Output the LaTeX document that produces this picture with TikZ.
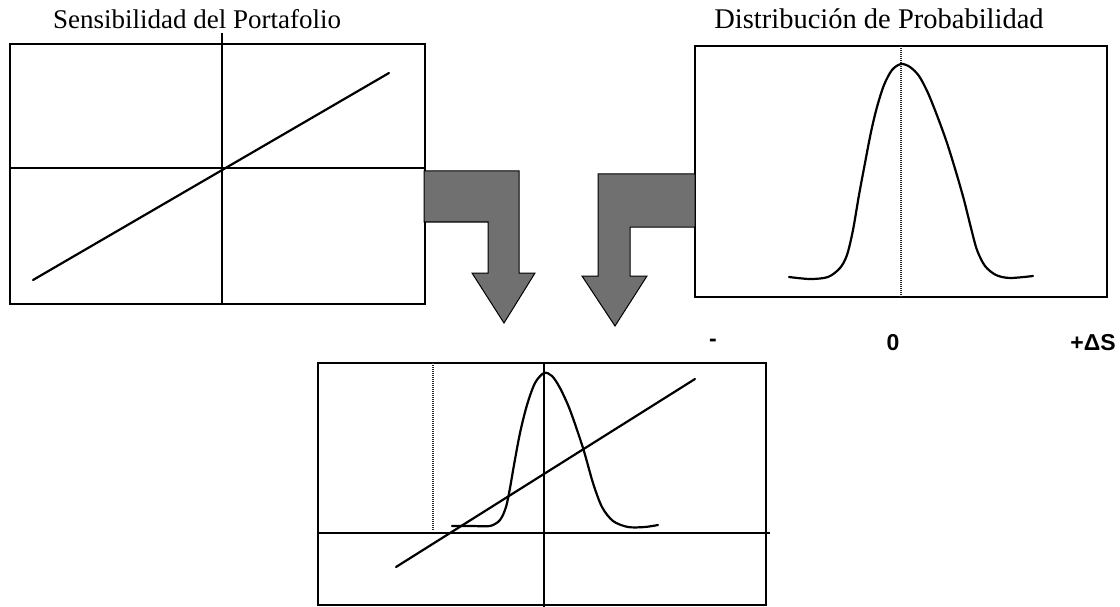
\documentclass[tikz,border=0pt]{standalone}
\usepackage{fontspec}
\setmainfont{Liberation Serif}
\newfontfamily\labfont{Liberation Sans}
\definecolor{arrowgray}{RGB}{112,112,112}
\tikzset{
  panel/.style={draw=black, line width=1.6pt},
  axis/.style={draw=black, line width=1.5pt},
  curve/.style={draw=black, line width=2.2pt, line join=round, line cap=round},
  dotline/.style={draw=black!85, line width=1.8pt, dash pattern=on 1pt off 1pt},
  bigarrow/.style={draw=black, line width=1pt, fill=arrowgray},
  title/.style={font=\fontsize{27}{30}\selectfont, inner sep=0pt},
  axlabel/.style={font=\labfont\bfseries\fontsize{23}{26}\selectfont, inner sep=0pt}
}
\begin{document}
\begin{tikzpicture}[x=1pt,y=-1pt]
\useasboundingbox (0,0) rectangle (1120,607);
% titles
\node[title] (t1) at (197,19) {Sensibilidad del Portafolio};
\node[title, font=\fontsize{28.5}{32}\selectfont] (t2) at (879,19) {Distribución de Probabilidad};
% left panel
\draw[panel] (10,44) rectangle (425,304);
\draw[axis] (222,33) -- (222,304);
\draw[axis] (10,168) -- (425,168);
\draw[curve] (33,280) -- (389,73);
% right panel
\draw[panel] (695,46) rectangle (1107,297);
\draw[dotline] (901,46) -- (901,297);
\draw[curve] plot[smooth, tension=0.5] coordinates {
 (789,277) (810,279) (828,277) (840,268) (847,255) (853,230) (859,195) (865,163)
 (871,132) (877,107) (884,85) (892,70) (901,64) (910,67) (919,76) (928,93)
 (938,118) (947,143) (956,172) (964,200) (971,228) (977,250) (985,266)
 (996,275) (1010,278) (1033,276)};
% arrows
\draw[bigarrow] (424,171) -- (519,171) -- (519,273) -- (535,273) -- (504,323)
  -- (472,273) -- (488,273) -- (488,222) -- (424,222) -- cycle;
\draw[bigarrow] (695,174) -- (598,174) -- (598,276) -- (582,276) -- (615,326)
  -- (647,276) -- (630,276) -- (630,227) -- (695,227) -- cycle;
% axis labels
\node[axlabel] (lm) at (713,343) {-};
\node[axlabel] (l0) at (893,343) {0};
\node[axlabel] (lp) at (1093,343) {+ΔS};
% bottom panel
\draw[panel] (318,605) -- (318,363) -- (766,363) -- (766,605) -- cycle;
\draw[axis] (544,363) -- (544,607);
\draw[axis] (318,533) -- (770,533);
\draw[dotline] (433,363) -- (433,531);
\draw[curve] (396,567) -- (695,379);
\draw[curve] plot[smooth, tension=0.5] coordinates {
 (452,526) (472,526) (490,526) (500,520) (506,507) (510,488) (514,465)
 (520,433) (527,405) (535,383) (544,373) (552,376) (560,388) (570,410)
 (583,448) (593,483) (602,507) (613,521) (628,527) (645,527) (658,525)};
\end{tikzpicture}
\end{document}
